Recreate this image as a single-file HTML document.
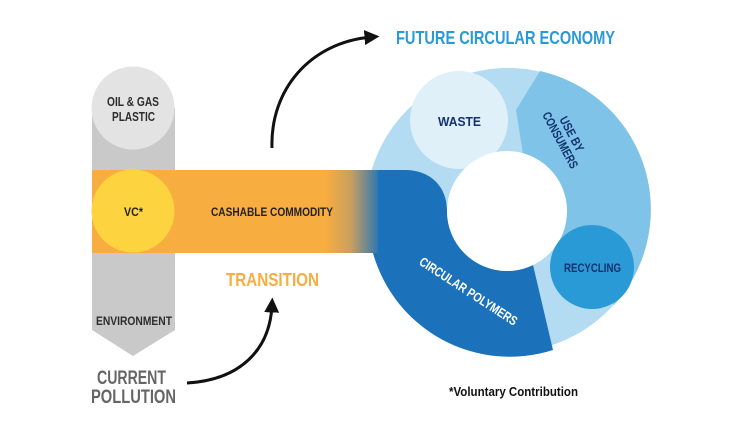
<!DOCTYPE html>
<html><head><meta charset="utf-8"><style>
html,body{margin:0;padding:0;background:#fff;}
svg{display:block;}
text{font-family:"Liberation Sans",sans-serif;font-weight:bold;}
</style></head><body>
<svg width="754" height="424" viewBox="0 0 754 424" xmlns="http://www.w3.org/2000/svg">
<defs>
<linearGradient id="g" x1="325" y1="0" x2="382" y2="0" gradientUnits="userSpaceOnUse">
<stop offset="0" stop-color="#f8ad40"/><stop offset="0.45" stop-color="#c9a060"/><stop offset="1" stop-color="#1b72bb"/>
</linearGradient>
<marker id="ah" viewBox="0 0 10 10" refX="5" refY="5" markerWidth="5" markerHeight="5" orient="auto"><path d="M0,0 L10,5 L0,10 z" fill="#111"/></marker>
</defs>
<path d="M92,108 L175,108 L175,330 L133,356 L92,330 Z" fill="#c9c9ca"/>
<circle cx="133" cy="108" r="41.5" fill="#e3e3e4"/>
<circle cx="508" cy="210" r="142" fill="#b3dbf1"/>
<path d="M540,71 L516,110 L523,154 A60,60 0 0 1 560,240 L614,305 A142,142 0 0 0 540,71 Z" fill="#7fc4e8"/>
<circle cx="459" cy="120" r="49" fill="#dff0f9"/>
<rect x="92" y="170" width="290" height="83" fill="url(#g)"/>
<path d="M378,170 L405,170 C430,170 447,186 447,211 A60,60 0 0 0 533,265 L553,350 A142,142 0 0 1 373,253 L378,253 Z" fill="#1b72bb"/>
<circle cx="507" cy="211" r="60" fill="#fff"/>
<circle cx="592" cy="267" r="42" fill="#2a9ad6"/>
<circle cx="133" cy="211" r="41.5" fill="#fdd33f"/>
<path d="M272,148 C270,90 310,42 372,37" fill="none" stroke="#111" stroke-width="3" marker-end="url(#ah)"/>
<path d="M187,383 C240,380 270,350 272,305" fill="none" stroke="#111" stroke-width="3" marker-end="url(#ah)"/>
<text x="396" y="44" font-size="18" fill="#2a9ad6" textLength="219" lengthAdjust="spacingAndGlyphs">FUTURE CIRCULAR ECONOMY</text>
<text x="107" y="106" font-size="12.5" fill="#2d2d2d" textLength="52" lengthAdjust="spacingAndGlyphs">OIL &amp; GAS</text>
<text x="112" y="121" font-size="12.5" fill="#2d2d2d" textLength="43" lengthAdjust="spacingAndGlyphs">PLASTIC</text>
<text x="124" y="216" font-size="12" fill="#222" textLength="19" lengthAdjust="spacingAndGlyphs">VC*</text>
<text x="211" y="216" font-size="12" fill="#222" textLength="122" lengthAdjust="spacingAndGlyphs">CASHABLE COMMODITY</text>
<text x="226" y="286" font-size="18" fill="#f8ad40" textLength="93" lengthAdjust="spacingAndGlyphs">TRANSITION</text>
<text x="96" y="325" font-size="12" fill="#2d2d2d" textLength="76" lengthAdjust="spacingAndGlyphs">ENVIRONMENT</text>
<text x="97" y="384" font-size="19" fill="#666" textLength="69" lengthAdjust="spacingAndGlyphs">CURRENT</text>
<text x="91" y="403" font-size="19" fill="#666" textLength="85" lengthAdjust="spacingAndGlyphs">POLLUTION</text>
<text x="438" y="126" font-size="13" fill="#14306e" textLength="43" lengthAdjust="spacingAndGlyphs">WASTE</text>
<text x="564" y="272" font-size="12" fill="#14306e" textLength="57" lengthAdjust="spacingAndGlyphs">RECYCLING</text>
<text transform="translate(568,136) rotate(62)" font-size="12.5" fill="#14306e"><tspan x="-19" y="0" textLength="38" lengthAdjust="spacingAndGlyphs">USE BY</tspan><tspan x="-31" y="13" textLength="62" lengthAdjust="spacingAndGlyphs">CONSUMERS</tspan></text>
<text transform="translate(466,295) rotate(33)" font-size="13" fill="#fff" x="-57" textLength="114" lengthAdjust="spacingAndGlyphs">CIRCULAR POLYMERS</text>
<text x="449" y="396" font-size="12.5" fill="#111" textLength="129" lengthAdjust="spacingAndGlyphs">*Voluntary Contribution</text>
</svg>
</body></html>
